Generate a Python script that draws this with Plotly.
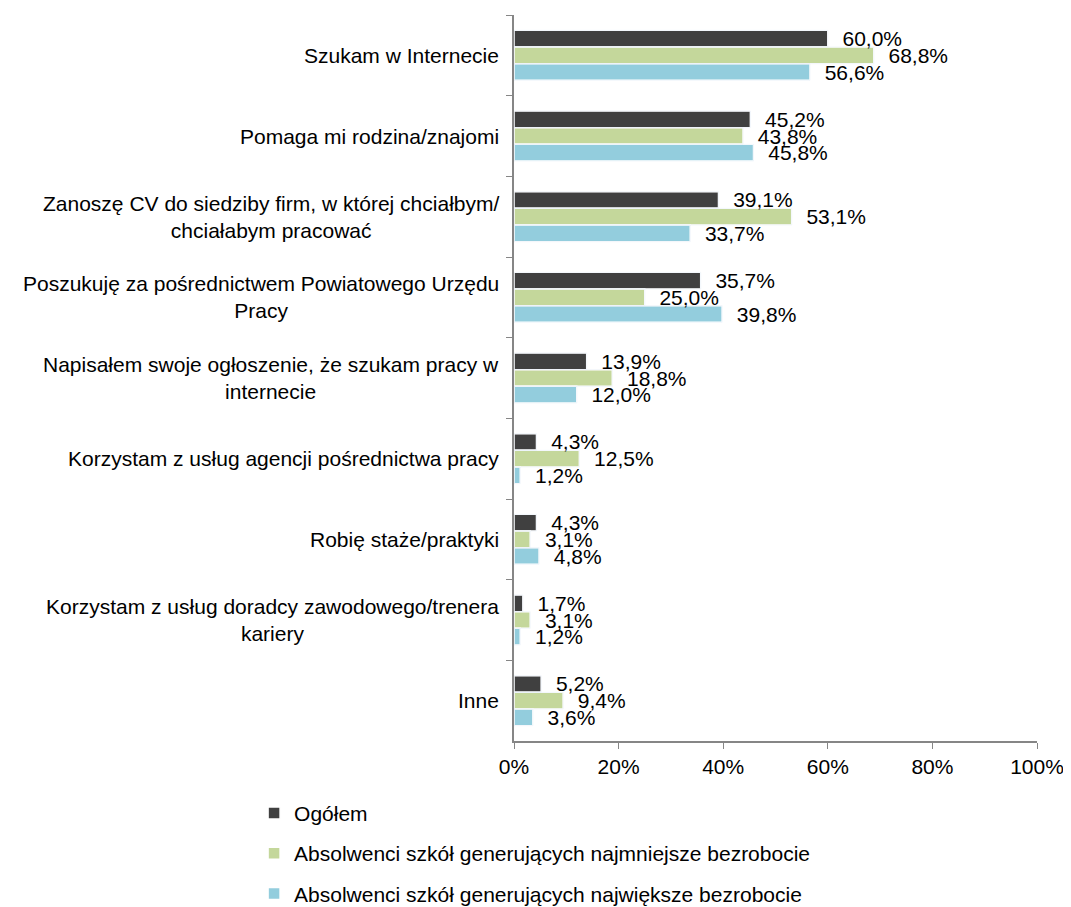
import plotly.graph_objects as go

# Categories (top to bottom) and series values in percent
categories = [
    "Szukam w Internecie",
    "Pomaga mi rodzina/znajomi",
    "Zanoszę CV do siedziby firm, w której chciałbym/<br>chciałabym pracować",
    "Poszukuję za pośrednictwem Powiatowego Urzędu<br>Pracy",
    "Napisałem swoje ogłoszenie, że szukam pracy w<br>internecie",
    "Korzystam z usług agencji pośrednictwa pracy",
    "Robię staże/praktyki",
    "Korzystam z usług doradcy zawodowego/trenera<br>kariery",
    "Inne",
]
ogolem = [60.0, 45.2, 39.1, 35.7, 13.9, 4.3, 4.3, 1.7, 5.2]
najmniejsze = [68.8, 43.8, 53.1, 25.0, 18.8, 12.5, 3.1, 3.1, 9.4]
najwieksze = [56.6, 45.8, 33.7, 39.8, 12.0, 1.2, 4.8, 1.2, 3.6]

series = [
    ("Ogółem", ogolem, "#404040"),
    ("Absolwenci szkół generujących najmniejsze bezrobocie", najmniejsze, "#c4d79b"),
    ("Absolwenci szkół generujących największe bezrobocie", najwieksze, "#93cddd"),
]

FONT = "Liberation Sans, Arial, sans-serif"
FS = 21

fig = go.Figure()
# bars
for i, (name, vals, color) in enumerate(series):
    fig.add_trace(go.Bar(
        y=categories,
        x=vals,
        name=name,
        orientation="h",
        offsetgroup=str(i),
        legendgroup=f"g{i}",
        marker=dict(color=color, line=dict(color="white", width=1.5)),
    ))

# value labels drawn last so that no bar covers them
for i, (name, vals, color) in enumerate(series):
    fig.add_trace(go.Bar(
        y=categories,
        x=vals,
        orientation="h",
        offsetgroup=str(i),
        showlegend=False,
        hoverinfo="skip",
        marker=dict(color="rgba(0,0,0,0)"),
        text=["\u00a0\u00a0" + f"{v:.1f}%".replace(".", ",") for v in vals],
        textposition="outside",
        constraintext="none",
        cliponaxis=False,
        textfont=dict(size=FS, color="black", family=FONT),
    ))

# category labels as centred, multi-line annotations
for cat in categories:
    fig.add_annotation(
        x=0, xref="paper", xshift=-13, xanchor="right",
        y=cat, yref="y",
        text=cat, showarrow=False, align="center",
        font=dict(size=FS, color="black", family=FONT),
    )

fig.update_layout(
    width=1063,
    height=899,
    margin=dict(l=506, r=30, t=7, b=166),
    plot_bgcolor="white",
    paper_bgcolor="white",
    barmode="group",
    bargap=0.38,
    bargroupgap=0,
    font=dict(family=FONT, size=FS, color="black"),
    showlegend=True,
    legend=dict(
        orientation="v",
        x=-0.497, xanchor="left",
        yref="container",
        y=0.127, yanchor="top",
        traceorder="grouped",
        tracegroupgap=10,
        font=dict(size=FS, family=FONT),
        itemwidth=30,
    ),
    xaxis=dict(
        range=[0, 100],
        dtick=20,
        ticksuffix="%",
        showgrid=False,
        zeroline=False,
        showline=True,
        linecolor="#868686",
        linewidth=1.5,
        ticks="outside",
        tickcolor="#868686",
        ticklen=6,
        tickfont=dict(size=FS),
    ),
    yaxis=dict(
        autorange="reversed",
        showticklabels=False,
        showgrid=False,
        zeroline=False,
        showline=True,
        linecolor="#868686",
        linewidth=1.5,
        ticks="outside",
        tickson="boundaries",
        tickcolor="#868686",
        ticklen=6,
    ),
)

fig.write_html("out.html")
